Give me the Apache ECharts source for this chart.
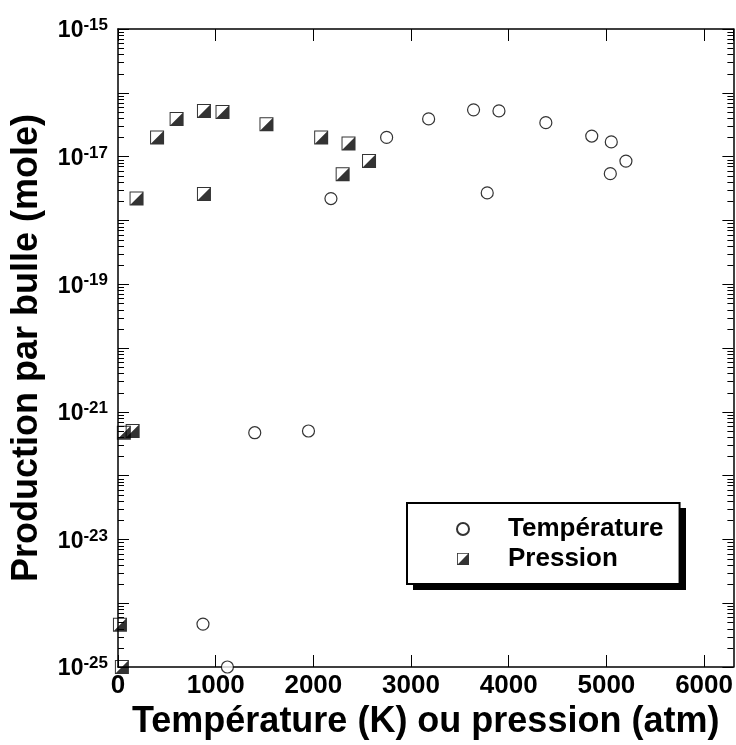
<!DOCTYPE html>
<html>
<head>
<meta charset="utf-8">
<script src="https://cdn.jsdelivr.net/npm/echarts@6/dist/echarts.min.js"></script>
<style>
  html, body { margin: 0; padding: 0; background: #fff; }
  #chart { width: 736px; height: 745px; }
</style>
</head>
<body>
<div id="chart"></div>
<script>
// Température (K) -> production par bulle (mole)
const tempX = [1120, 870, 1400, 1950, 2180, 2750, 3180, 3640, 3900, 3780, 4380, 4850, 5050, 5200, 5040];
const tempY = [1.0e-25, 4.7e-25, 4.7e-22, 5.0e-22, 2.2e-18, 2.0e-17, 3.9e-17, 5.4e-17, 5.2e-17, 2.7e-18, 3.4e-17, 2.1e-17, 1.7e-17, 8.5e-18, 5.4e-18];

// Pression (atm) -> production par bulle (mole)
const presX = [40, 20, 150, 60, 190, 400, 600, 880, 880, 1070, 1520, 2080, 2360, 2570, 2300];
const presY = [1.0e-25, 4.6e-25, 5.0e-22, 4.7e-22, 2.2e-18, 2.0e-17, 3.9e-17, 5.2e-17, 2.6e-18, 5.0e-17, 3.2e-17, 2.0e-17, 1.6e-17, 8.5e-18, 5.3e-18];

// axes (y in decades)
const xMin = 0, xMax = 6300, xStep = 1000;
const yMinExp = -25, yMaxExp = -15;
const yLabelExps = [-25, -23, -21, -19, -17, -15];

const FONT = "Liberation Sans";
const squarePath = "path://M0,0L14,0L14,14L0,14Z M1,1L1,13L13,13L13,1Z M13,1L13,13L1,13Z";

function toLog(xs, ys) {
  return xs.map(function (x, i) { return [x, Math.log10(ys[i])]; });
}

// minor ticks at 2..9 of every decade
const minorTicks = [];
for (let d = yMinExp; d < yMaxExp; d++) {
  for (let k = 2; k <= 9; k++) minorTicks.push([0, d + Math.log10(k)]);
}

const chart = echarts.init(document.getElementById("chart"));

const tickLine = { lineStyle: { color: "#000", width: 1 } };
const axisLine = { show: true, onZero: false, lineStyle: { color: "#000", width: 1.5 } };

chart.setOption({
  animation: false,
  backgroundColor: "#fff",
  grid: { left: 118, right: 1, top: 29, bottom: 78 },
  // drop shadow behind the legend box
  graphic: [
    { type: "rect", z: 1, silent: true, shape: { x: 413, y: 508, width: 273, height: 82 }, style: { fill: "#000" } }
  ],
  legend: {
    orient: "vertical",
    left: 407,
    top: 503,
    z: 6,
    data: [
      { name: "Température", icon: "circle" },
      { name: "Pression", icon: squarePath }
    ],
    itemWidth: 12,
    itemHeight: 12,
    itemGap: 2,
    padding: [12, 16, 11, 49],
    backgroundColor: "#fff",
    borderColor: "#000",
    borderWidth: 2,
    borderRadius: 0,
    selectedMode: false,
    textStyle: {
      fontFamily: FONT, fontWeight: "bold", fontSize: 26, color: "#000",
      lineHeight: 28, padding: [0, 0, 0, 34]
    }
  },
  xAxis: [
    {
      type: "value", position: "bottom",
      min: xMin, max: xMax, interval: xStep,
      name: "Température (K) ou pression (atm)",
      nameLocation: "middle", nameGap: 33,
      nameTextStyle: { fontFamily: FONT, fontWeight: "bold", fontSize: 36, color: "#000" },
      axisLine: axisLine,
      axisTick: Object.assign({ inside: true, length: 12 }, tickLine),
      axisLabel: {
        margin: 6, showMaxLabel: false,
        fontFamily: FONT, fontWeight: "bold", fontSize: 26, color: "#000",
        formatter: function (v) { return v % xStep === 0 ? String(v) : ""; }
      },
      splitLine: { show: false }
    },
    {
      type: "value", position: "top",
      min: xMin, max: xMax, interval: xStep,
      axisLine: axisLine,
      axisTick: Object.assign({ inside: true, length: 12 }, tickLine),
      axisLabel: { show: false },
      splitLine: { show: false }
    }
  ],
  yAxis: [
    {
      type: "value", position: "left",
      min: yMinExp, max: yMaxExp, interval: 1,
      name: "Production par bulle (mole)",
      nameLocation: "middle", nameGap: 73,
      nameTextStyle: { fontFamily: FONT, fontWeight: "bold", fontSize: 36, color: "#000" },
      axisLine: axisLine,
      axisTick: Object.assign({ inside: true, length: 11 }, tickLine),
      axisLabel: {
        margin: 10,
        formatter: function (v) {
          return yLabelExps.indexOf(v) >= 0 ? "{b|10}{s|" + v + "}" : "";
        },
        rich: {
          b: { fontFamily: FONT, fontWeight: "bold", fontSize: 23, color: "#000", lineHeight: 24, padding: [4, 0, 0, 0] },
          s: { fontFamily: FONT, fontWeight: "bold", fontSize: 17, color: "#000", lineHeight: 24, verticalAlign: "top", padding: [0, 0, 6, 0] }
        }
      },
      splitLine: { show: false }
    },
    {
      type: "value", position: "right",
      min: yMinExp, max: yMaxExp, interval: 1,
      axisLine: axisLine,
      axisTick: Object.assign({ inside: true, length: 11 }, tickLine),
      axisLabel: { show: false },
      splitLine: { show: false }
    }
  ],
  series: [
    {
      name: "minorTicks",
      type: "custom",
      silent: true,
      clip: false,
      z: 3,
      data: minorTicks,
      renderItem: function (params, api) {
        const cs = params.coordSys;
        const y = Math.round(api.coord([0, api.value(1)])[1]) + 0.5;
        const style = { stroke: "#000", lineWidth: 1 };
        return {
          type: "group",
          children: [
            { type: "line", shape: { x1: cs.x, y1: y, x2: cs.x + 6, y2: y }, style: style },
            { type: "line", shape: { x1: cs.x + cs.width - 6, y1: y, x2: cs.x + cs.width, y2: y }, style: style }
          ]
        };
      }
    },
    {
      name: "Température",
      type: "scatter",
      clip: false,
      z: 5,
      symbol: "circle",
      symbolSize: 12,
      itemStyle: { color: "#fff", borderColor: "#000", borderWidth: 1.2 },
      data: toLog(tempX, tempY)
    },
    {
      name: "Pression",
      type: "scatter",
      clip: false,
      z: 5,
      symbol: squarePath,
      symbolSize: 14,
      itemStyle: { color: "#000" },
      data: toLog(presX, presY)
    }
  ]
});

window.addEventListener("resize", function () {
  chart.resize();
});
</script>
</body>
</html>
